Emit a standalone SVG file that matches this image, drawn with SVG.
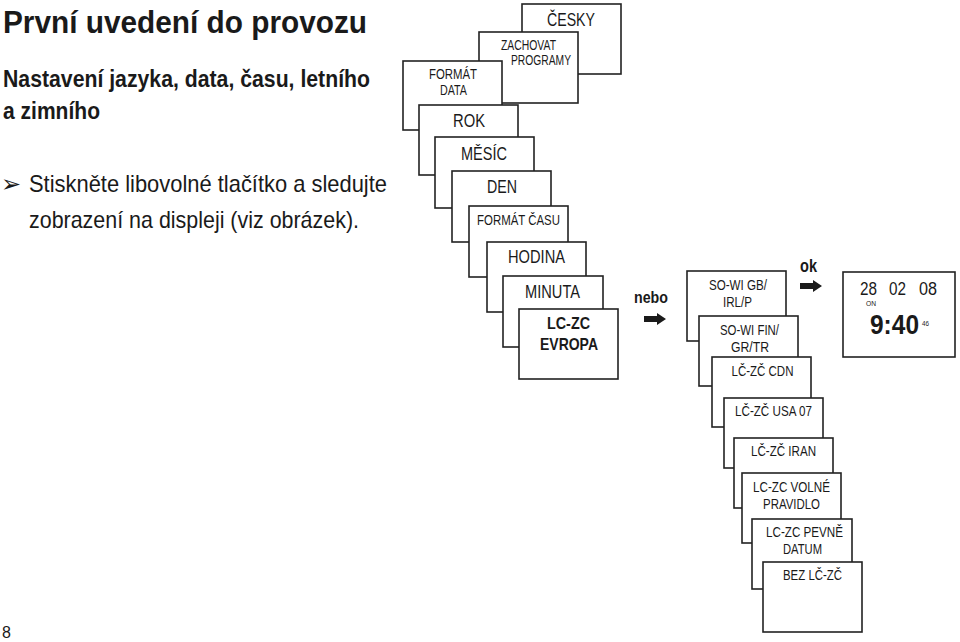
<svg xmlns="http://www.w3.org/2000/svg" width="960" height="642" viewBox="0 0 960 642">
<defs>
<style>
.b{fill:#fff;stroke:#222;stroke-width:1.6}
.t{font-family:"Liberation Sans",Arial,sans-serif;fill:#1a1a1a;text-anchor:middle}
.h{font-family:"Liberation Sans",Arial,sans-serif;fill:#1a1a1a;font-weight:bold}
.p{font-family:"Liberation Sans",Arial,sans-serif;fill:#1a1a1a}
.ar{fill:#1a1a1a}
</style>
<symbol id="arrow" viewBox="0 0 22 12" overflow="visible">
<path d="M0,3 L13,3 L13,0 L22,6 L13,12 L13,9 L0,9 Z"/>
</symbol>
</defs>
<rect width="960" height="642" fill="#fff"/>

<g id="heading">
<text class="h" x="3" y="33" font-size="31" textLength="364" lengthAdjust="spacingAndGlyphs">První uvedení do provozu</text>
<text class="h" x="3" y="87" font-size="24" textLength="367" lengthAdjust="spacingAndGlyphs">Nastavení jazyka, data, času, letního</text>
<text class="h" x="3" y="119" font-size="24" textLength="97" lengthAdjust="spacingAndGlyphs">a zimního</text>
<text x="1" y="192" font-family="DejaVu Sans,sans-serif" font-size="24" fill="#1a1a1a">➢</text>
<text class="p" x="29" y="192" font-size="24" textLength="358" lengthAdjust="spacingAndGlyphs">Stiskněte libovolné tlačítko a sledujte</text>
<text class="p" x="29" y="228" font-size="24" textLength="330" lengthAdjust="spacingAndGlyphs">zobrazení na displeji (viz obrázek).</text>
<text class="p" x="2" y="638" font-size="16">8</text>
</g>

<g id="n-cesky"><rect class="b" x="522" y="4" width="99" height="70"/><text class="t" x="571" y="26" font-size="18" textLength="48" lengthAdjust="spacingAndGlyphs">ČESKY</text></g>
<g id="n-zachovat"><rect class="b" x="479" y="32" width="99" height="71"/><text class="t" x="528.5" y="50" font-size="14" textLength="55" lengthAdjust="spacingAndGlyphs">ZACHOVAT</text><text class="t" x="541" y="65" font-size="14" textLength="60" lengthAdjust="spacingAndGlyphs">PROGRAMY</text></g>
<g id="n-format-data"><rect class="b" x="403" y="61" width="99" height="69"/><text class="t" x="453" y="79" font-size="15" textLength="48" lengthAdjust="spacingAndGlyphs">FORMÁT</text><text class="t" x="453.5" y="95" font-size="15" textLength="27" lengthAdjust="spacingAndGlyphs">DATA</text></g>
<g id="n-rok"><rect class="b" x="419" y="105" width="99" height="70"/><text class="t" x="469" y="127" font-size="18" textLength="32" lengthAdjust="spacingAndGlyphs">ROK</text></g>
<g id="n-mesic"><rect class="b" x="435" y="137" width="99" height="71"/><text class="t" x="484" y="160" font-size="18" textLength="46" lengthAdjust="spacingAndGlyphs">MĚSÍC</text></g>
<g id="n-den"><rect class="b" x="452" y="171" width="99" height="71"/><text class="t" x="502" y="193" font-size="18" textLength="30" lengthAdjust="spacingAndGlyphs">DEN</text></g>
<g id="n-format-casu"><rect class="b" x="469" y="206" width="99" height="71"/><text class="t" x="518.5" y="225" font-size="15" textLength="83" lengthAdjust="spacingAndGlyphs">FORMÁT ČASU</text></g>
<g id="n-hodina"><rect class="b" x="487" y="242" width="99" height="70"/><text class="t" x="536.5" y="263" font-size="18" textLength="57" lengthAdjust="spacingAndGlyphs">HODINA</text></g>
<g id="n-minuta"><rect class="b" x="503" y="276" width="100" height="71"/><text class="t" x="552.5" y="298" font-size="18" textLength="55" lengthAdjust="spacingAndGlyphs">MINUTA</text></g>
<g id="n-evropa"><rect class="b" x="519" y="309" width="99" height="70"/><text class="t" x="568.5" y="329" font-size="17" font-weight="bold" textLength="43" lengthAdjust="spacingAndGlyphs">LC-ZC</text><text class="t" x="569" y="350" font-size="17" font-weight="bold" textLength="58" lengthAdjust="spacingAndGlyphs">EVROPA</text></g>

<g id="n-sowi-gb"><rect class="b" x="687" y="271" width="99" height="70"/><text class="t" x="738" y="290" font-size="15" textLength="58" lengthAdjust="spacingAndGlyphs">SO-WI GB/</text><text class="t" x="737.5" y="307" font-size="15" textLength="29" lengthAdjust="spacingAndGlyphs">IRL/P</text></g>
<g id="n-sowi-fin"><rect class="b" x="699" y="316" width="99" height="70"/><text class="t" x="749.5" y="335" font-size="15" textLength="59" lengthAdjust="spacingAndGlyphs">SO-WI FIN/</text><text class="t" x="750" y="352" font-size="15" textLength="38" lengthAdjust="spacingAndGlyphs">GR/TR</text></g>
<g id="n-cdn"><rect class="b" x="712" y="357" width="99" height="70"/><text class="t" x="762.5" y="376" font-size="15" textLength="62" lengthAdjust="spacingAndGlyphs">LČ-ZČ CDN</text></g>
<g id="n-usa"><rect class="b" x="724" y="398" width="99" height="70"/><text class="t" x="773.5" y="416" font-size="15" textLength="77" lengthAdjust="spacingAndGlyphs">LČ-ZČ USA 07</text></g>
<g id="n-iran"><rect class="b" x="734" y="438" width="99" height="70"/><text class="t" x="783.5" y="456" font-size="15" textLength="65" lengthAdjust="spacingAndGlyphs">LČ-ZČ IRAN</text></g>
<g id="n-volne"><rect class="b" x="742" y="473" width="99" height="70"/><text class="t" x="791.5" y="492" font-size="15" textLength="77" lengthAdjust="spacingAndGlyphs">LC-ZC VOLNÉ</text><text class="t" x="791.5" y="509" font-size="15" textLength="57" lengthAdjust="spacingAndGlyphs">PRAVIDLO</text></g>
<g id="n-pevne"><rect class="b" x="752" y="519" width="100" height="70"/><text class="t" x="804.5" y="537" font-size="15" textLength="77" lengthAdjust="spacingAndGlyphs">LC-ZC PEVNĚ</text><text class="t" x="802.5" y="554" font-size="15" textLength="39" lengthAdjust="spacingAndGlyphs">DATUM</text></g>
<g id="n-bez"><rect class="b" x="763" y="562" width="99" height="70"/><text class="t" x="812.5" y="580" font-size="15" textLength="59" lengthAdjust="spacingAndGlyphs">BEZ LČ-ZČ</text></g>

<g id="n-display"><rect class="b" x="843" y="272" width="112" height="85"/>
<text class="p" x="860" y="295" font-size="18" textLength="17" lengthAdjust="spacingAndGlyphs">28</text>
<text class="p" x="889" y="295" font-size="18" textLength="17" lengthAdjust="spacingAndGlyphs">02</text>
<text class="p" x="919" y="295" font-size="18" textLength="18" lengthAdjust="spacingAndGlyphs">08</text>
<text class="p" x="866" y="306" font-size="8" textLength="10" lengthAdjust="spacingAndGlyphs">ON</text>
<text class="p" x="870" y="334" font-size="27" font-weight="bold" textLength="49" lengthAdjust="spacingAndGlyphs">9:40</text>
<text class="p" x="922" y="326" font-size="8" textLength="7" lengthAdjust="spacingAndGlyphs">46</text>
</g>

<g id="connectors">
<text class="h" x="634" y="303" font-size="17" textLength="34" lengthAdjust="spacingAndGlyphs">nebo</text>
<use href="#arrow" class="ar" x="644" y="313" width="22" height="12"/>
<text class="h" x="800" y="272" font-size="18" textLength="17" lengthAdjust="spacingAndGlyphs">ok</text>
<use href="#arrow" class="ar" x="800" y="280" width="22" height="12"/>
</g>
</svg>
